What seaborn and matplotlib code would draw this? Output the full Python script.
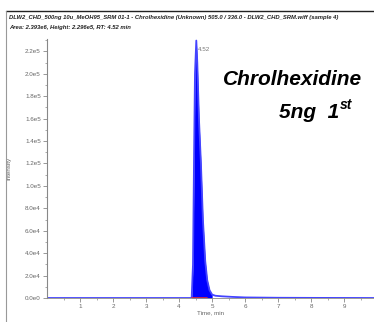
import numpy as np
import pandas as pd
import matplotlib
matplotlib.use("Agg")
import matplotlib.pyplot as plt
import seaborn as sns
from matplotlib.lines import Line2D

# chromatogram trace (time in min, intensity in cps)
time_min = [0.0, 1.0, 2.0, 3.0, 4.0, 4.38, 4.42, 4.45, 4.48, 4.52, 4.55, 4.60, 4.66,
            4.72, 4.79, 4.85, 4.92, 5.00, 5.10, 5.30, 5.60, 6.00, 7.00, 8.00, 9.90]
intensity = [0, 0, 0, 0, 0, 0, 3.0e4, 1.2e5, 2.0e5, 2.296e5, 2.1e5, 1.6e5, 1.2e5,
             7.0e4, 3.3e4, 1.6e4, 7.0e3, 3.0e3, 2.0e3, 1.5e3, 1.0e3, 500, 200, 100, 0]
peak_start, peak_end = 4.38, 4.85
rt_label = "4.52"

title_lines = ["DLW2_CHD_500ng 10u_MeOH95_SRM 01-1 - Chrolhexidine (Unknown) 505.0 / 336.0 - DLW2_CHD_SRM.wiff (sample 4)",
               "Area: 2.393e6, Height: 2.296e5, RT: 4.52 min"]
y_ticks = [0, 2e4, 4e4, 6e4, 8e4, 1e5, 1.2e5, 1.4e5, 1.6e5, 1.8e5, 2.0e5, 2.2e5]
y_ticklabels = ["0.0e0", "2.0e4", "4.0e4", "6.0e4", "8.0e4", "1.0e5", "1.2e5",
                "1.4e5", "1.6e5", "1.8e5", "2.0e5", "2.2e5"]
x_ticks = [1, 2, 3, 4, 5, 6, 7, 8, 9]

df = pd.DataFrame({"time": time_min, "intensity": intensity})

sns.set_style("white")
plt.rcParams["font.family"] = ["Liberation Sans", "DejaVu Sans"]

fig = plt.figure(figsize=(3.74, 3.22), dpi=100)
ax = fig.add_axes([47 / 374, 1 - 298 / 322, 1 - 47 / 374, (298 - 39) / 322])

# filled peak area
pk = df[(df.time >= peak_start) & (df.time <= 5.0)]
ax.fill_between(pk.time, 0, pk.intensity, color="#0000ff", lw=0)
sns.lineplot(data=df, x="time", y="intensity", ax=ax, color="#4444ff", lw=1.3)
ax.plot([peak_start, peak_end], [0, 0], color="#e03030", lw=1.2)

ax.text(4.56, 2.2e5, rt_label, fontsize=4.5, color="#777777")

ax.set_xlim(0, 9.9)
ax.set_ylim(0, 2.31e5)
ax.set_xticks(x_ticks)
ax.set_xticklabels([str(v) for v in x_ticks])
ax.set_xticks(np.arange(0.5, 9.9, 0.5), minor=True)
ax.set_yticks(y_ticks)
ax.set_yticklabels(y_ticklabels)
ax.set_yticks(np.arange(1e4, 2.31e5, 2e4), minor=True)
ax.tick_params(axis="both", which="major", labelsize=4.5, labelcolor="#666666",
               color="#888888", length=3, width=0.6, direction="out", pad=1.5,
               bottom=True, left=True)
ax.tick_params(axis="both", which="minor", color="#888888", length=1.5, width=0.5,
               direction="out", bottom=True, left=True)
for s in ["top", "right"]:
    ax.spines[s].set_visible(False)
ax.spines["left"].set_color("#888888")
ax.spines["left"].set_linewidth(0.8)
ax.spines["bottom"].set_color("#888888")
ax.spines["bottom"].set_linewidth(0.6)
ax.set_xlabel("Time, min", fontsize=4.5, color="#666666", labelpad=1)
ax.set_ylabel("Intensity", fontsize=4.5, color="#666666", labelpad=0)
ax.yaxis.set_label_coords(-0.11, 0.5)

# outer frame like the instrument export
fig.add_artist(Line2D([6 / 374, 1], [1 - 11 / 322, 1 - 11 / 322], color="#222222", lw=1.0))
fig.add_artist(Line2D([6 / 374, 6 / 374], [0, 1 - 11 / 322], color="#999999", lw=0.8))

fig.text(9 / 374, 1 - 18 / 322, title_lines[0], fontsize=4.2, style="italic",
         fontweight="bold", color="#222222", va="center")
fig.text(9 / 374, 1 - 27 / 322, title_lines[1], fontsize=4.2, style="italic",
         fontweight="bold", color="#222222", va="center")

big = dict(fontsize=15, style="italic", fontweight="bold", color="black")
fig.text(362 / 374, 1 - 85 / 322, "Chrolhexidine", ha="right", va="baseline", **big)
fig.text(339 / 374, 1 - 118 / 322, "5ng  1", ha="right", va="baseline", **big)
fig.text(340 / 374, 1 - 109 / 322, "st", ha="left", va="baseline",
         fontsize=10, style="italic", fontweight="bold", color="black")

fig.savefig("out.png", dpi=100)
